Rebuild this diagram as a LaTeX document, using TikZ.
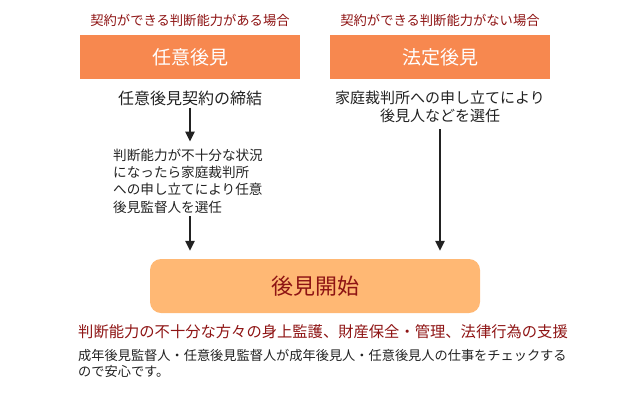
\documentclass[tikz,border=0pt]{standalone}
\usepackage{fontspec}
\setmainfont{Noto Sans CJK JP}
\usetikzlibrary{arrows.meta}
\definecolor{boxorange}{HTML}{F7884F}
\definecolor{paleorange}{HTML}{FFB874}
\definecolor{darkred}{HTML}{8E1414}
\definecolor{inkgray}{HTML}{222222}
\newcommand{\fsz}[2]{\fontsize{#1}{#2}\selectfont}
\begin{document}
\begin{tikzpicture}[x=1pt,y=-1pt,
	head/.style={text=darkred,inner sep=0pt,font=\fsz{13.3}{16}},
	kind/.style={fill=boxorange,text=white,minimum width=220pt,minimum height=44pt,inner sep=0pt,font=\fsz{19}{22}},
	body/.style={text=inkgray,inner sep=0pt,align=center},
	arr/.style={draw=inkgray,line width=2.5pt,-{Triangle[width=9pt,length=10pt]}}]
	\useasboundingbox (0,0) rectangle (620,400);
	% two kinds of guardianship
	\node[head] (headL) at (190,20) {契約ができる判断能力がある場合};
	\node[head] (headR) at (440,20) {契約ができる判断能力がない場合};
	\node[kind] (nini) at (190,57) {任意後見};
	\node[kind] (houtei) at (440,57) {法定後見};
	\node[body,font=\fsz{16}{18}] (keiyaku) at (190,98) {任意後見契約の締結};
	\node[body,align=left,anchor=west,font=\fsz{13.6}{17.3}] (kantoku) at (113,181)
		{判断能力が不十分な状況\\になったら家庭裁判所\\への申し立てにより任意\\後見監督人を選任};
	\node[body,font=\fsz{15}{18}] (moushi) at (440,107)
		{家庭裁判所への申し立てにより\\後見人などを選任};
	% start of guardianship
	\node[fill=paleorange,rounded corners=11pt,minimum width=330pt,minimum height=54pt,
		text=darkred,font=\fsz{22}{24}] (kaishi) at (315,286) {後見開始};
	\draw[arr,shorten <=2pt,shorten >=7pt] (keiyaku.south) -- (kantoku.north -| keiyaku.south);
	\draw[arr,shorten <=3pt,shorten >=8pt] (kantoku.south -| keiyaku.south) -- (kaishi.north -| keiyaku.south);
	\draw[arr,shorten <=6pt,shorten >=8pt] (moushi.south) -- (kaishi.north -| moushi.south);
	\node[text=darkred,inner sep=0pt,anchor=west,font=\fsz{15.3}{18}] (shien) at (78,332)
		{判断能力の不十分な方々の身上監護、財産保全・管理、法律行為の支援};
	\node[text=inkgray,inner sep=0pt,anchor=north west,align=left,font=\fsz{13.2}{16.5}] (anshin) at (78,349)
		{成年後見監督人・任意後見監督人が成年後見人・任意後見人の仕事をチェックする\\ので安心です。};
\end{tikzpicture}
\end{document}
